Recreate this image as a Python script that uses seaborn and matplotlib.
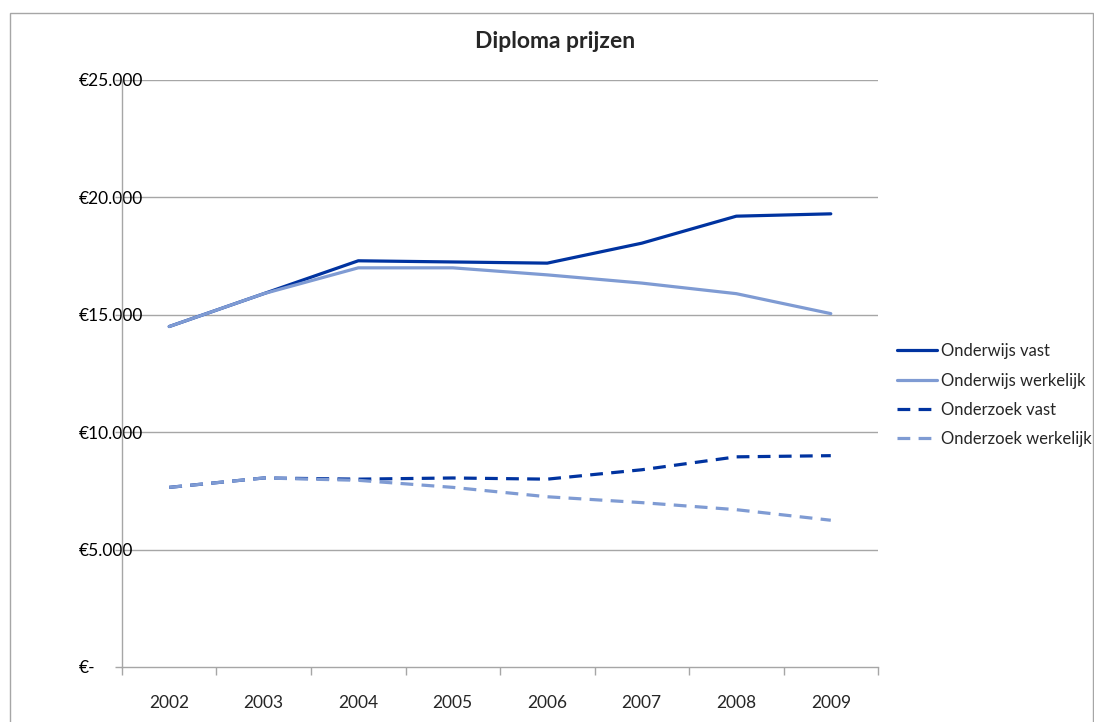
import matplotlib
matplotlib.use("Agg")
import matplotlib.pyplot as plt
import matplotlib.patches as mpatches
import pandas as pd
import seaborn as sns

# Data
years = ["2002", "2003", "2004", "2005", "2006", "2007", "2008", "2009"]
onderwijs_vast = [14500, 15900, 17300, 17250, 17200, 18050, 19200, 19300]
onderwijs_werkelijk = [14500, 15900, 17000, 17000, 16700, 16350, 15900, 15050]
onderzoek_vast = [7650, 8050, 8000, 8050, 8000, 8400, 8950, 9000]
onderzoek_werkelijk = [7650, 8050, 7950, 7650, 7250, 7000, 6700, 6250]

y_ticks = [0, 5000, 10000, 15000, 20000, 25000]
y_labels = ["€-", "€5.000", "€10.000", "€15.000", "€20.000", "€25.000"]

dark = "#0033A0"
light = "#7F9BD3"
series = [
    ("Onderwijs vast", onderwijs_vast, dark, "-"),
    ("Onderwijs werkelijk", onderwijs_werkelijk, light, "-"),
    ("Onderzoek vast", onderzoek_vast, dark, "--"),
    ("Onderzoek werkelijk", onderzoek_werkelijk, light, "--"),
]

sns.set_style("white")
plt.rcParams["font.family"] = ["Lato", "DejaVu Sans"]

fig = plt.figure(figsize=(10.94, 7.22), dpi=100)
ax = fig.add_axes([0.1115, 0.0762, 0.6911, 0.813])

pos = list(range(len(years)))
for name, vals, col, ls in series:
    df = pd.DataFrame({"x": pos, "y": vals})
    sns.lineplot(data=df, x="x", y="y", ax=ax, color=col, linewidth=2.3,
                 label=name)
    if ls == "--":
        ax.lines[-1].set_dashes((4, 2.6))

ax.set_xlim(-0.5, len(years) - 0.5)
ax.set_ylim(0, 25000)
ax.set_xlabel("")
ax.set_ylabel("")

grid_col = "#A6A6A6"
ax.set_yticks(y_ticks)
ax.set_yticklabels(y_labels, ha="left")
ax.tick_params(axis="y", length=5, width=1, color=grid_col, pad=26,
               labelsize=12.5, labelcolor="black", left=True)
for yv in y_ticks[1:]:
    ax.axhline(yv, color=grid_col, linewidth=1, zorder=0)

ax.set_xticks(pos)
ax.set_xticklabels(years)
ax.set_xticks([p - 0.5 for p in range(len(years) + 1)], minor=True)
ax.tick_params(axis="x", which="major", length=0, pad=20, labelsize=12.5)
ax.tick_params(axis="x", which="minor", length=6, width=1, color=grid_col,
               bottom=True)

for s in ["top", "right"]:
    ax.spines[s].set_visible(False)
for s in ["left", "bottom"]:
    ax.spines[s].set_color(grid_col)
    ax.spines[s].set_linewidth(1)

fig.text(0.507, 0.942, "Diploma prijzen", fontsize=16.5, fontweight="bold",
         ha="center", va="center")

leg = ax.legend(loc="center left", bbox_to_anchor=(1.016, 0.463), frameon=False,
                fontsize=12, handlelength=2.4, handletextpad=0.25,
                labelspacing=0.8, borderaxespad=0)
for h in leg.get_lines():
    h.set_linewidth(2.3)

# outer chart border
fig.patches.append(mpatches.Rectangle((0.009, -0.01), 0.99, 0.992,
                                      transform=fig.transFigure, fill=False,
                                      edgecolor="#A6A6A6", linewidth=1))

fig.savefig("out.png", dpi=100)
